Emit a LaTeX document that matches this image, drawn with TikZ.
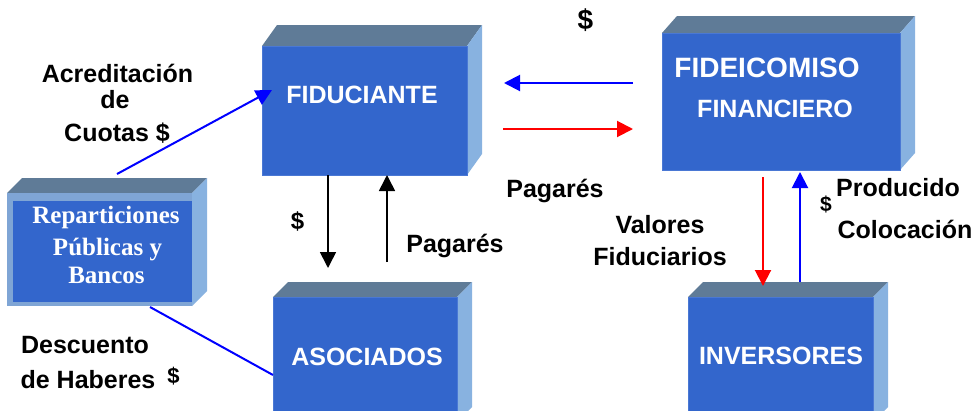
\documentclass[tikz,border=0pt]{standalone}
\usepackage{fontspec}
\setmainfont{Liberation Sans}
\newfontfamily\timesf{Liberation Serif}
\usetikzlibrary{arrows.meta,calc}
\definecolor{frontc}{HTML}{3366CC}
\definecolor{edgec}{HTML}{4A78D4}
\definecolor{topc}{HTML}{5F7B97}
\definecolor{sidec}{HTML}{88B2E0}
\definecolor{framec}{HTML}{7FA5D5}
\definecolor{arrblue}{HTML}{0000FF}
\definecolor{arrred}{HTML}{FF0000}
\newcommand\cubebox[6]{%
  \fill[topc] (#2,#3) -- ++(15,-#6) -- ++(#4,0) -- ++(-15,#6) -- cycle;
  \fill[sidec] (#2+#4,#3) -- ++(15,-#6) -- ++(0,#5) -- ++(-15,#6) -- cycle;
  \node[frontbox, minimum width=#4pt, minimum height=#5pt, anchor=north west] (#1) at (#2,#3) {};
}
\begin{document}
\begin{tikzpicture}[x=1pt,y=-1pt,
  frontbox/.style={fill=frontc, draw=edgec, line width=1pt, inner sep=0pt, outer sep=0pt},
  boxtxt/.style={text=white, font=\bfseries\fontsize{25}{30}\selectfont, inner sep=0pt, anchor=base},
  reptxt/.style={text=white, font=\timesf\bfseries\fontsize{25}{30}\selectfont, inner sep=0pt, anchor=base},
  lbl/.style={text=black, font=\bfseries\fontsize{25}{30}\selectfont, inner sep=0pt, anchor=base},
  dol/.style={text=black, font=\bfseries\fontsize{#1}{#1}\selectfont, inner sep=0pt},
  tip/.style={-{Triangle[length=16pt,width=16pt]}},
  bl/.style={draw=arrblue, line width=2pt},
  rd/.style={draw=arrred, line width=2pt},
  bk/.style={draw=black, line width=1.6pt}]
\useasboundingbox (0,0) rectangle (980,410);
\fill[white] (0,0) rectangle (980,410);

% boxes
\cubebox{fid}{262}{46}{205}{129}{21}
\cubebox{fdc}{662}{33}{238}{137}{17}
\cubebox{aso}{273}{297}{184}{125}{15}
\cubebox{inv}{688}{297}{185}{125}{15}

% Reparticiones box
\fill[topc] (7,193) -- ++(15,-15) -- ++(185,0) -- ++(-15,15) -- cycle;
\fill[sidec] (192,193) -- ++(15,-15) -- ++(0,113) -- ++(-15,15) -- cycle;
\node[fill=framec, inner sep=0pt, outer sep=0pt, minimum width=185pt, minimum height=113pt, anchor=north west] (rep) at (7,193) {};
\node[fill=frontc, inner sep=0pt, outer sep=0pt, minimum width=179pt, minimum height=101pt, anchor=north west] (repin) at (13,201) {};

% box texts
\node[boxtxt] (fidt) at (362,103) {FIDUCIANTE};
\node[boxtxt, font=\bfseries\fontsize{28}{30}\selectfont] (fdct1) at (767,77) {FIDEICOMISO};
\node[boxtxt] (fdct2) at (775,117) {FINANCIERO};
\node[boxtxt] (asot) at (367,365) {ASOCIADOS};
\node[boxtxt] (invt) at (781,364) {INVERSORES};
\node[reptxt] (rept1) at (106,223) {Reparticiones};
\node[reptxt] (rept2) at (107.5,255) {Públicas y};
\node[reptxt] (rept3) at (106.5,283) {Bancos};

% connectors
\draw[bl, tip] ($(rep.north west)+(110,-19)$) -- ($(fid.north west)+(10,44)$);
\draw[bl] ($(rep.south west)+(143,1)$) -- ($(aso.north west)+(0,78)$);
\draw[bk, tip] ($(fid.south west)+(66,0)$) -- ($(aso.north west)+(55,-29)$);
\draw[bk, tip] ($(aso.north west)+(114,-35)$) -- ($(fid.south west)+(125,0)$);
\draw[bl, tip] ($(fdc.north west)+(-29,50)$) -- ($(fid.north east)+(37,37)$);
\draw[rd, tip] ($(fid.north east)+(36,83)$) -- ($(fdc.north west)+(-29,96)$);
\draw[rd, tip] ($(fdc.south west)+(101,7)$) -- ($(inv.north west)+(75,-11)$);
\draw[bl, tip] ($(inv.north west)+(112,-15)$) -- ($(fdc.south west)+(138,2)$);

% labels
\node[lbl] (l1) at (117.5,82) {Acreditación};
\node[lbl] (l2) at (115,108) {de};
\node[lbl] (l3) at (117,141) {Cuotas \$};
\node[lbl] (l4) at (85,353) {Descuento};
\node[lbl] (l5) at (88,388) {de Haberes};
\node[dol=22] (l6) at (173.5,376) {\$};
\node[dol=28] (l7) at (585.5,20.5) {\$};
\node[dol=24] (l8) at (297.5,221) {\$};
\node[lbl] (l9) at (455,252) {Pagarés};
\node[lbl] (l10) at (555,197) {Pagarés};
\node[lbl] (l11) at (660,233) {Valores};
\node[lbl] (l12) at (660,265) {Fiduciarios};
\node[dol=21] (l13) at (826,204) {\$};
\node[lbl] (l14) at (898,196) {Producido};
\node[lbl] (l15) at (905,238) {Colocación};
\end{tikzpicture}
\end{document}
